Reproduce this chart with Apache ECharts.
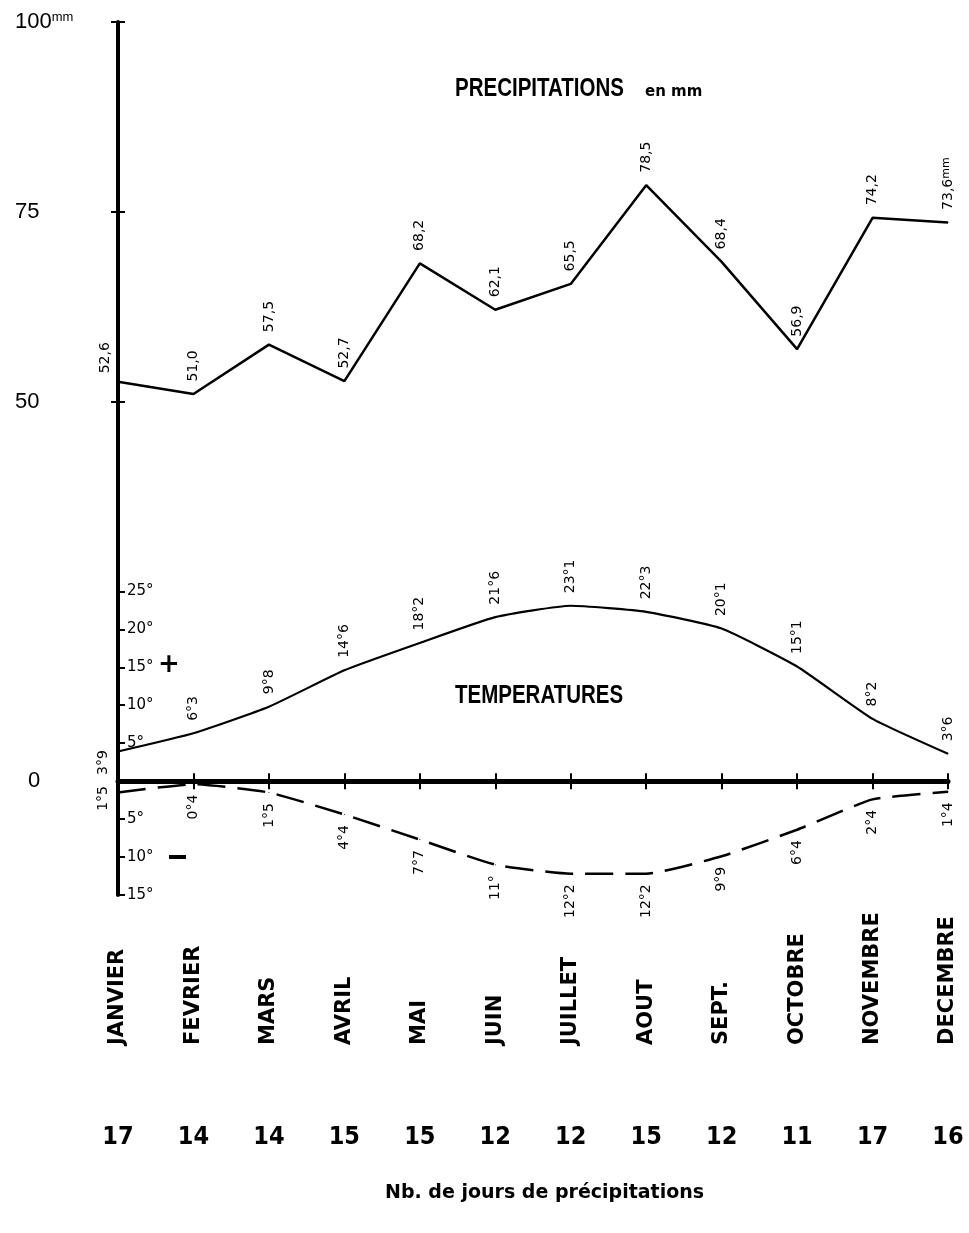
<!DOCTYPE html>
<html>
<head>
<meta charset="utf-8">
<title>Précipitations et températures</title>
<script src="https://cdn.jsdelivr.net/npm/echarts@6/dist/echarts.min.js"></script>
<style>
  html, body { margin: 0; padding: 0; background: #fff; }
  #chart { width: 969px; height: 1233px; }
</style>
</head>
<body>
<div id="chart"></div>
<script>
  // mois
  const months = ['JANVIER', 'FEVRIER', 'MARS', 'AVRIL', 'MAI', 'JUIN', 'JUILLET', 'AOUT', 'SEPT.', 'OCTOBRE', 'NOVEMBRE', 'DECEMBRE'];
  // précipitations en mm
  const precip = [52.6, 51.0, 57.5, 52.7, 68.2, 62.1, 65.5, 78.5, 68.4, 56.9, 74.2, 73.6];
  // températures maximales
  const tempMax = [3.9, 6.3, 9.8, 14.6, 18.2, 21.6, 23.1, 22.3, 20.1, 15.1, 8.2, 3.6];
  // températures minimales (tracées sous le zéro)
  const tempMin = [-1.5, -0.4, -1.5, -4.4, -7.7, -11, -12.2, -12.2, -9.9, -6.4, -2.4, -1.4];
  // nb. de jours de précipitations
  const rainDays = [17, 14, 14, 15, 15, 12, 12, 15, 12, 11, 17, 16];
  // graduations
  const precipTicks = [0, 50, 75, 100];
  const tempTicks = [-15, -10, -5, 5, 10, 15, 20, 25];

  const narrow = '"DejaVu Sans Condensed", sans-serif';
  const plain = '"DejaVu Sans", sans-serif';
  const liberation = '"Liberation Sans", sans-serif';

  const chart = echarts.init(document.getElementById('chart'));

  function mm(v) {
    return v.toFixed(1).replace('.', ',');
  }

  function deg(v) {
    const a = Math.abs(v);
    return Number.isInteger(a) ? a + '°' : a.toFixed(1).replace('.', '°');
  }

  const tickStyle = {color: '#000', width: 2};

  // étiquettes verticales au-dessus des points
  // (offset dans le repère tourné : [vers le haut, vers la droite])
  const upLabel = {
    show: true,
    position: 'top',
    distance: 12,
    rotate: 90,
    align: 'left',
    verticalAlign: 'middle',
    color: '#000',
    fontFamily: plain,
    fontSize: 14
  };
  // étiquettes verticales sous les points
  const downLabel = Object.assign({}, upLabel, {position: 'bottom', align: 'right', distance: 10});

  chart.setOption({
    backgroundColor: '#fff',
    animation: false,
    grid: {left: 118, right: 21, top: 22, bottom: 1233 - 895, containLabel: false, outerBoundsMode: 'none'},
    xAxis: [
      // ligne du zéro
      {
        type: 'category', data: months, boundaryGap: false, position: 'bottom',
        axisLine: {onZero: true, lineStyle: {color: '#000', width: 5}},
        axisTick: {show: true, interval: 0, length: 8, lineStyle: tickStyle},
        axisLabel: {show: false}
      },
      {
        type: 'category', data: months, boundaryGap: false, position: 'bottom',
        axisLine: {show: false, onZero: true},
        axisTick: {show: true, inside: true, interval: 0, length: 8, lineStyle: tickStyle},
        axisLabel: {show: false}
      },
      // mois
      {
        type: 'category', data: months, boundaryGap: false, position: 'bottom',
        axisLine: {show: false, onZero: false},
        axisTick: {show: false},
        axisLabel: {
          interval: 0, rotate: 90, align: 'left', verticalAlign: 'middle', margin: 150,
          color: '#000', fontFamily: plain, fontWeight: 'bold', fontSize: 21
        }
      },
      // nb. de jours
      {
        type: 'category', data: months, boundaryGap: false, position: 'bottom',
        axisLine: {show: false, onZero: false},
        axisTick: {show: false},
        axisLabel: {
          interval: 0, margin: 230,
          formatter: (v, i) => rainDays[i],
          color: '#000', fontFamily: narrow, fontWeight: 'bold', fontSize: 25
        }
      }
    ],
    yAxis: [
      {
        type: 'value', min: -15, max: 100, position: 'left',
        axisLine: {show: true, onZero: false, lineStyle: {color: '#000', width: 4}},
        axisTick: {show: true, customValues: [50, 75, 100], length: 7, lineStyle: tickStyle},
        axisLabel: {
          customValues: precipTicks, align: 'left', margin: 103,
          formatter: v => v === 100 ? '100{sup|mm}' : (v === 0 ? '{z|0}' : String(v)),
          color: '#000', fontFamily: liberation, fontSize: 22,
          rich: {
            sup: {fontSize: 13, verticalAlign: 'top', fontFamily: liberation},
            z: {fontSize: 22, fontFamily: liberation, padding: [0, 0, 0, 13]}
          }
        },
        splitLine: {show: false}
      },
      {
        type: 'value', min: -15, max: 100, position: 'left',
        axisLine: {show: false, onZero: false},
        axisTick: {show: true, inside: true, customValues: [-15, -10, -5, 5, 10, 15, 20, 25, 50, 75, 100], length: 7, lineStyle: tickStyle},
        axisLabel: {
          customValues: tempTicks, inside: true, margin: 9,
          formatter: v => Math.abs(v) + '°',
          color: '#000', fontFamily: plain, fontSize: 15
        },
        splitLine: {show: false}
      }
    ],
    series: [
      {
        name: 'Précipitations',
        type: 'line',
        symbol: 'circle', symbolSize: 1,
        lineStyle: {color: '#000', width: 2.5},
        itemStyle: {color: '#000'},
        label: Object.assign({}, upLabel, {
          formatter: p => p.dataIndex === 11 ? mm(p.value) + '{sup|mm}' : mm(p.value),
          rich: {sup: {fontSize: 11, verticalAlign: 'top', fontFamily: plain}}
        }),
        data: precip.map((v, i) => i === 0 ? {value: v, label: {offset: [-4, -13]}} : v)
      },
      {
        name: 'Températures maximales',
        type: 'line', smooth: 0.15,
        symbol: 'circle', symbolSize: 1,
        lineStyle: {color: '#000', width: 2.2},
        itemStyle: {color: '#000'},
        label: Object.assign({}, upLabel, {formatter: p => deg(p.value)}),
        data: tempMax.map((v, i) => i === 0 ? {value: v, label: {offset: [-36, -15]}} : v)
      },
      {
        name: 'Températures minimales',
        type: 'line', smooth: 0.15,
        symbol: 'circle', symbolSize: 1,
        lineStyle: {color: '#000', width: 2.5, type: [28, 12]},
        itemStyle: {color: '#000'},
        label: Object.assign({}, downLabel, {formatter: p => deg(p.value)}),
        data: tempMin.map((v, i) => i === 0 ? {value: v, label: {offset: [17, -15]}} : v)
      }
    ],
    graphic: [
      {
        type: 'text', x: 455, y: 77, scaleX: 0.82,
        style: {text: 'PRECIPITATIONS', font: 'bold 25px ' + liberation, fill: '#000', verticalAlign: 'top'}
      },
      {
        type: 'text', x: 645, y: 85,
        style: {text: 'en mm', font: 'bold 15px ' + plain, fill: '#000', verticalAlign: 'top'}
      },
      {
        type: 'text', x: 455, y: 684, scaleX: 0.82,
        style: {text: 'TEMPERATURES', font: 'bold 25px ' + liberation, fill: '#000', verticalAlign: 'top'}
      },
      {
        type: 'text', x: 158, y: 652,
        style: {text: '+', font: 'bold 26px ' + plain, fill: '#000', verticalAlign: 'top'}
      },
      {
        type: 'rect', shape: {x: 169, y: 855, width: 17, height: 4},
        style: {fill: '#000'}
      },
      {
        type: 'text', x: 385, y: 1184,
        style: {text: 'Nb. de jours de précipitations', font: 'bold 19px ' + plain, fill: '#000', verticalAlign: 'top'}
      }
    ]
  });
</script>
</body>
</html>
